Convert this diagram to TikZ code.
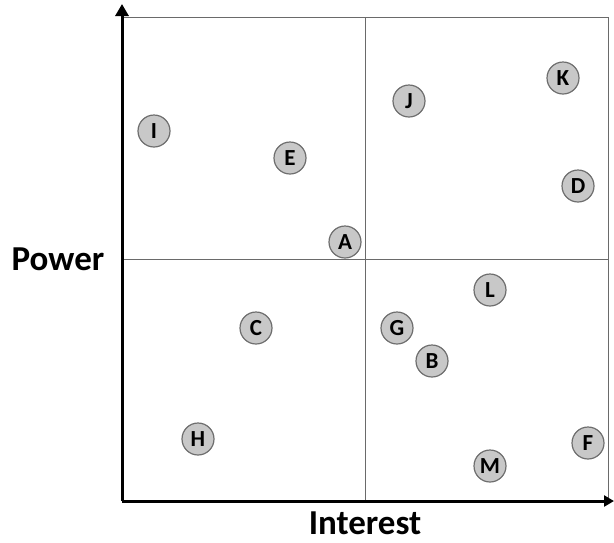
\documentclass[tikz,border=0pt]{standalone}
\usepackage{fontspec}
\setmainfont{Carlito}
\usetikzlibrary{arrows.meta}
\definecolor{stkfill}{HTML}{C8C8C8}
\definecolor{stkline}{HTML}{6E6E6E}
\definecolor{gridgrey}{HTML}{6A6A6A}

\begin{document}
\begin{tikzpicture}[x=1pt,y=-1pt,
  stake/.style={circle,fill=stkfill,draw=stkline,line width=1.2pt,minimum size=32pt,inner sep=0pt,
    font=\fontsize{23}{23}\selectfont\bfseries},
  axislabel/.style={inner sep=0pt,font=\fontsize{35}{35}\selectfont\bfseries}]
  \useasboundingbox (0,0) rectangle (614,542);
  % quadrant grid
  \draw[gridgrey,line width=1pt] (122,17) -- (608,17) -- (608,501);
  \draw[gridgrey,line width=1pt] (365,17) -- (365,501);
  \draw[gridgrey,line width=1pt] (122,259) -- (608,259);
  % axes
  \coordinate (origin) at (122,501);
  \coordinate (ytop) at (122,4);
  \coordinate (xend) at (614,501);
  \draw[line width=3pt,-{Triangle[length=12pt,width=13pt]}] (origin) -- (ytop);
  \draw[line width=3pt,-{Triangle[length=10pt,width=11pt]}] (origin) -- (xend);
  \node[axislabel] (power) at (58,259) {Power};
  \node[axislabel] (interest) at (365,523) {Interest};
  % stakeholders
  \node[stake] (I) at (154,131) {I};
  \node[stake] (E) at (290,158) {E};
  \node[stake] (A) at (345,242) {A};
  \node[stake] (J) at (409,101) {J};
  \node[stake] (K) at (563,78) {K};
  \node[stake] (D) at (578,186) {D};
  \node[stake] (L) at (490,290) {L};
  \node[stake] (C) at (256,328) {C};
  \node[stake] (G) at (397,328) {G};
  \node[stake] (B) at (432,361) {B};
  \node[stake] (H) at (198,439) {H};
  \node[stake] (F) at (588,443) {F};
  \node[stake] (M) at (490,466) {M};
\end{tikzpicture}
\end{document}
